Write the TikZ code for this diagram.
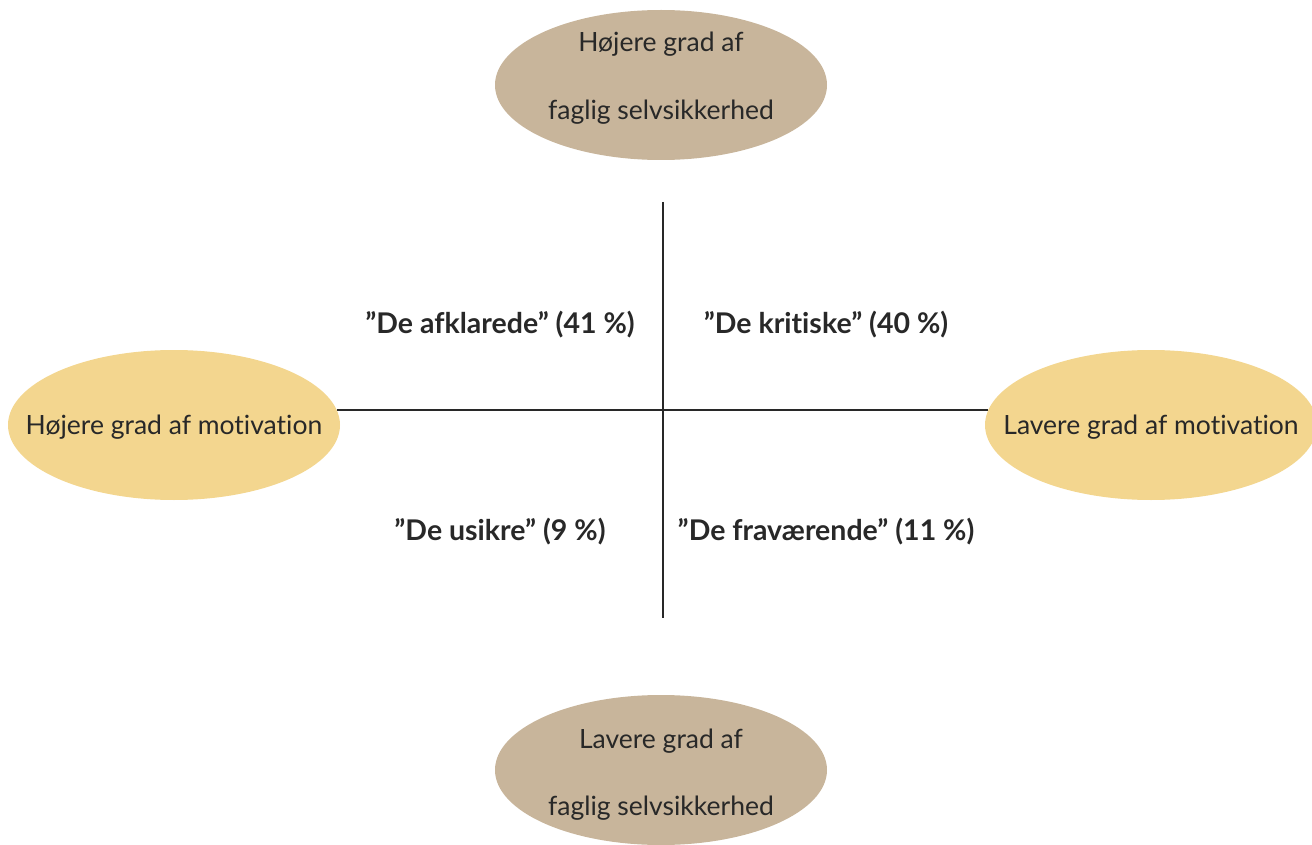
\documentclass[tikz,border=0pt]{standalone}
\usepackage{fontspec}
\setmainfont[Ligatures=NoCommon]{Lato}
\usetikzlibrary{shapes.geometric}
\definecolor{tanfill}{RGB}{200,181,155}
\definecolor{yelfill}{RGB}{243,214,143}
\definecolor{ink}{RGB}{40,40,40}
\tikzset{
  blob/.style={ellipse, minimum width=332pt, minimum height=150pt, inner sep=0pt, draw=none},
  axistext/.style={anchor=base, text=ink, font=\fontsize{26.5}{30}\selectfont, inner sep=0pt},
  grouptext/.style={anchor=base, text=ink, font=\fontsize{28.5}{32}\selectfont\bfseries, inner sep=0pt},
  axisline/.style={draw=ink, line width=1.3pt}
}
\begin{document}
\begin{tikzpicture}[x=1pt,y=-1pt]
\useasboundingbox (0,0) rectangle (1312,845);
% ellipses
\node[blob, fill=tanfill] (top) at (661,85) {};
\node[blob, fill=tanfill] (bot) at (661,770) {};
\node[blob, fill=yelfill] (lft) at (174,425) {};
\node[blob, fill=yelfill] (rgt) at (1151,425) {};
% ellipse texts
\node[axistext] (t1) at (661,52) {Højere grad af};
\node[axistext] (t2) at (661,120) {faglig selvsikkerhed};
\node[axistext] (b1) at (661,748) {Lavere grad af};
\node[axistext] (b2) at (661,815) {faglig selvsikkerhed};
\node[axistext] (l1) at (174,434) {Højere grad af motivation};
\node[axistext] (r1) at (1151,434) {Lavere grad af motivation};
% axes
\coordinate (vt) at (663,202);
\coordinate (vb) at (663,618);
\coordinate (hl) at (337,410);
\coordinate (hr) at (988,410);
\draw[axisline] (vt) -- (vb);
\draw[axisline] (hl) -- (hr);
% quadrant labels
\node[grouptext] (q1) at (500,333) {”De afklarede” (41 \%)};
\node[grouptext] (q2) at (826,333) {”De kritiske” (40 \%)};
\node[grouptext] (q3) at (500,540) {”De usikre” (9 \%)};
\node[grouptext] (q4) at (826,540) {”De fraværende” (11 \%)};
\end{tikzpicture}
\end{document}
